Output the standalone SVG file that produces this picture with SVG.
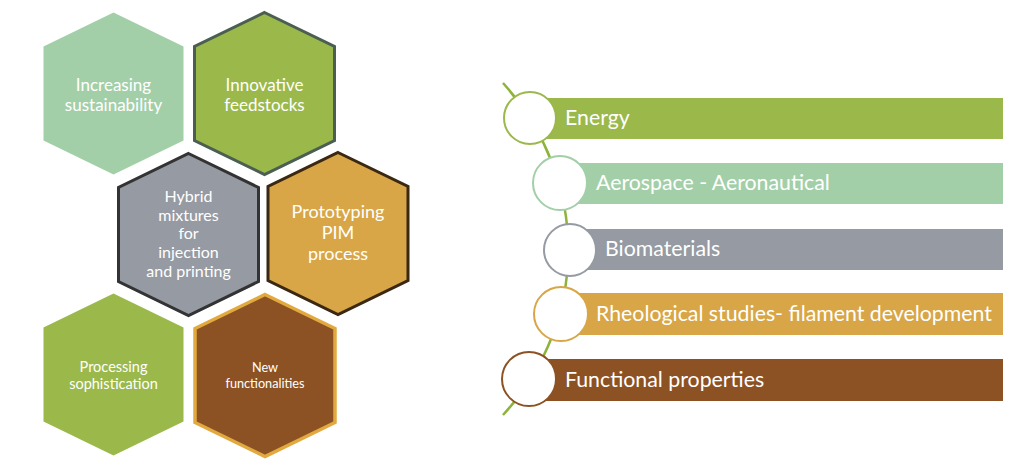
<svg xmlns="http://www.w3.org/2000/svg" width="1024" height="471" viewBox="0 0 1024 471">
<style>
.t{font-family:Lato,"Open Sans","Liberation Sans",sans-serif;fill:#ffffff;text-anchor:middle}
.b{font-family:Lato,"Open Sans","Liberation Sans",sans-serif;fill:#ffffff;font-size:21.3px}
.c{fill:#ffffff;stroke-width:2}
</style>
<defs>
<polygon id="hex" points="0,-81 70,-47 70,47 0,81 -70,47 -70,-47"/>
</defs>
<rect width="1024" height="471" fill="#ffffff"/>
<g id="hex-sustainability" transform="translate(113.5,93.5)">
<use href="#hex" fill="#a3cfa8"/>
<text class="t" font-size="17" y="-3">Increasing</text>
<text class="t" font-size="17" y="17">sustainability</text>
</g>
<g id="hex-feedstocks" transform="translate(264.5,93.5)">
<use href="#hex" fill="#9bb84b" stroke="#4a5e52" stroke-width="3"/>
<text class="t" font-size="17" y="-3">Innovative</text>
<text class="t" font-size="17" y="17">feedstocks</text>
</g>
<g id="hex-hybrid" transform="translate(188.5,234.5)">
<use href="#hex" fill="#959aa3" stroke="#333333" stroke-width="3"/>
<text class="t" font-size="16" y="-33">Hybrid</text>
<text class="t" font-size="16" y="-14">mixtures</text>
<text class="t" font-size="16" y="4">for</text>
<text class="t" font-size="16" y="23">injection</text>
<text class="t" font-size="16" y="42">and printing</text>
</g>
<g id="hex-prototyping" transform="translate(338,233.5)">
<use href="#hex" fill="#d8a646" stroke="#3b2812" stroke-width="3"/>
<text class="t" font-size="18" y="-16">Prototyping</text>
<text class="t" font-size="18" y="5">PIM</text>
<text class="t" font-size="18" y="26">process</text>
</g>
<g id="hex-processing" transform="translate(113.5,374.5)">
<use href="#hex" fill="#9bb84b"/>
<text class="t" font-size="14.5" y="-3">Processing</text>
<text class="t" font-size="14.5" y="14">sophistication</text>
</g>
<g id="hex-functionalities" transform="translate(265,375.5)">
<use href="#hex" fill="#8c5224" stroke="#e2a93e" stroke-width="3.5"/>
<text class="t" font-size="12.7" y="-4">New</text>
<text class="t" font-size="12.7" y="12">functionalities</text>
</g>
<g id="connectors">
<path d="M503,83 C590,180 590,320 503,415" fill="none" stroke="#8db33a" stroke-width="2.5"/>
</g>
<g id="bar-energy">
<rect x="530" y="98" width="473" height="41" fill="#9bb84b"/>
<circle class="c" cx="530" cy="118" r="26" stroke="#9bb84b"/>
<text class="b" x="565" y="125">Energy</text>
</g>
<g id="bar-aerospace">
<rect x="560" y="163" width="443" height="41" fill="#a3cfa8"/>
<circle class="c" cx="560" cy="183" r="27" stroke="#a3cfa8"/>
<text class="b" x="596" y="190">Aerospace - Aeronautical</text>
</g>
<g id="bar-biomaterials">
<rect x="570" y="229" width="433" height="41" fill="#959aa3"/>
<circle class="c" cx="570" cy="250" r="26" stroke="#959aa3"/>
<text class="b" x="605" y="256">Biomaterials</text>
</g>
<g id="bar-rheological">
<rect x="561" y="293" width="442" height="42" fill="#d8a646"/>
<circle class="c" cx="561" cy="314" r="27" stroke="#d8a646"/>
<text class="b" x="596" y="321">Rheological studies- filament development</text>
</g>
<g id="bar-functional">
<rect x="529" y="359" width="474" height="42" fill="#8c5224"/>
<circle class="c" cx="529" cy="379" r="27" stroke="#8c5224"/>
<text class="b" x="565" y="387">Functional properties</text>
</g>
</svg>
